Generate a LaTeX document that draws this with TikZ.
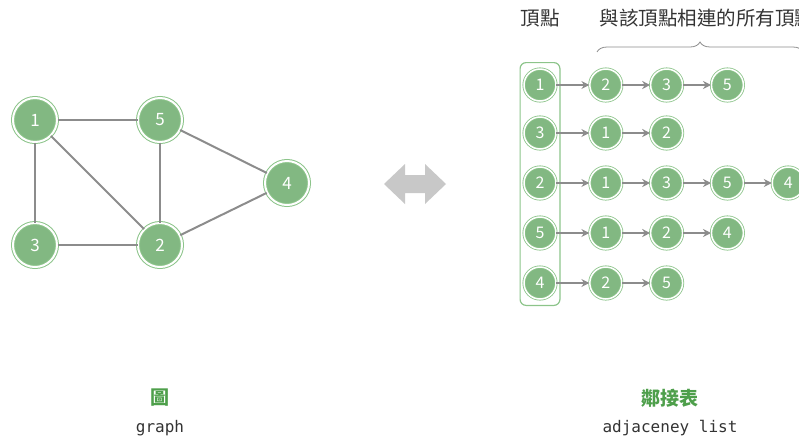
\documentclass[tikz,border=0pt]{standalone}
\usepackage{fontspec}
\setmonofont{DejaVu Sans Mono}
\newfontfamily\cjkfont{Noto Sans CJK TC}
\usetikzlibrary{positioning, arrows.meta, fit, decorations.pathreplacing}
\definecolor{nodegreen}{HTML}{82B882}
\definecolor{ringgreen}{HTML}{8CC48A}
\definecolor{titlegreen}{HTML}{4E9F4B}
\definecolor{edgegrey}{HTML}{8C8C8C}
\definecolor{textgrey}{HTML}{333333}
\definecolor{swapgrey}{HTML}{C8C8C8}

\begin{document}
\begin{tikzpicture}[
  x=1pt, y=-1pt,
  font=\cjkfont,
  node distance=28pt,
  vertex/.style={
    circle,
    fill=nodegreen,
    draw=ringgreen,
    double=white,
    double distance=2pt,
    line width=1pt,
    minimum size=44pt,
    inner sep=0pt,
    text=white,
    font=\cjkfont\fontsize{17}{17}\selectfont
  },
  listnode/.style={
    vertex,
    double distance=1.5pt,
    line width=0.8pt,
    minimum size=32pt,
    font=\cjkfont\fontsize{16}{16}\selectfont
  },
  gedge/.style={edgegrey, line width=2pt},
  nextarrow/.style={-{Stealth[length=8pt, width=8pt]}, edgegrey, line width=2pt},
  headtext/.style={text=textgrey, font=\cjkfont\fontsize{19.5}{19.5}\selectfont},
  titletext/.style={text=titlegreen, font=\cjkfont\bfseries\fontsize{19}{19}\selectfont},
  subtext/.style={text=textgrey, font=\ttfamily\fontsize{16}{16}\selectfont}
]
  \useasboundingbox (0,0) rectangle (799,440);

  % --- Graph (left) ---
  \node[vertex] (g1) at (35,120)  {1};
  \node[vertex] (g5) at (160,120) {5};
  \node[vertex] (g4) at (287,183) {4};
  \node[vertex] (g3) at (35,245)  {3};
  \node[vertex] (g2) at (160,245) {2};

  \foreach \a/\b in {g1/g5, g1/g3, g1/g2, g5/g2, g5/g4, g3/g2, g2/g4}
    \draw[gedge] (\a) -- (\b);

  % --- Two-way arrow ---
  \fill[swapgrey] (384,184) -- (405,164) -- (405,175) -- (425,175) -- (425,164)
    -- (446,184) -- (425,204) -- (425,193) -- (405,193) -- (405,204) -- cycle;

  % --- Vertex column ---
  \node[listnode] (v1) at (540,85)  {1};
  \node[listnode] (v3) at (540,133) {3};
  \node[listnode] (v2) at (540,183) {2};
  \node[listnode] (v5) at (540,233) {5};
  \node[listnode] (v4) at (540,283) {4};
  \node[draw=ringgreen, line width=1.2pt, rounded corners=6pt,
        inner xsep=3.5pt, inner ysep=6pt, fit=(v1)(v4)] (col) {};

  % --- Linked lists ---
  \node[listnode, right=33pt of v1]  (v1a) {2};
  \node[listnode, right=of v1a]      (v1b) {3};
  \node[listnode, right=of v1b]      (v1c) {5};

  \node[listnode, right=33pt of v3]  (v3a) {1};
  \node[listnode, right=of v3a]      (v3b) {2};

  \node[listnode, right=33pt of v2]  (v2a) {1};
  \node[listnode, right=of v2a]      (v2b) {3};
  \node[listnode, right=of v2b]      (v2c) {5};
  \node[listnode, right=of v2c]      (v2d) {4};

  \node[listnode, right=33pt of v5]  (v5a) {1};
  \node[listnode, right=of v5a]      (v5b) {2};
  \node[listnode, right=of v5b]      (v5c) {4};

  \node[listnode, right=33pt of v4]  (v4a) {2};
  \node[listnode, right=of v4a]      (v4b) {5};

  \foreach \a/\b in {v1/v1a, v1a/v1b, v1b/v1c,
                     v3/v3a, v3a/v3b,
                     v2/v2a, v2a/v2b, v2b/v2c, v2c/v2d,
                     v5/v5a, v5a/v5b, v5b/v5c,
                     v4/v4a, v4a/v4b}
    \draw[nextarrow] (\a) -- (\b);

  % --- Headings and brace ---
  \node[headtext] (hvert) at (540,18) {頂點};
  \node[headtext, anchor=west] (hlist) at (596,18) {與該頂點相連的所有頂點};
  \coordinate (bl) at (597,52);
  \coordinate (br) at (803,52);
  \draw[edgegrey, line width=0.8pt, decorate, decoration={brace, amplitude=10pt}]
    (bl) -- (br);

  % --- Captions ---
  \node[titletext] (tgraph) at (160,398) {圖};
  \node[subtext]   (sgraph) at (160,428) {graph};
  \node[titletext] (tlist)  at (670,398) {鄰接表};
  \node[subtext]   (slist)  at (670,428) {adjaceney list};

\end{tikzpicture}
\end{document}
